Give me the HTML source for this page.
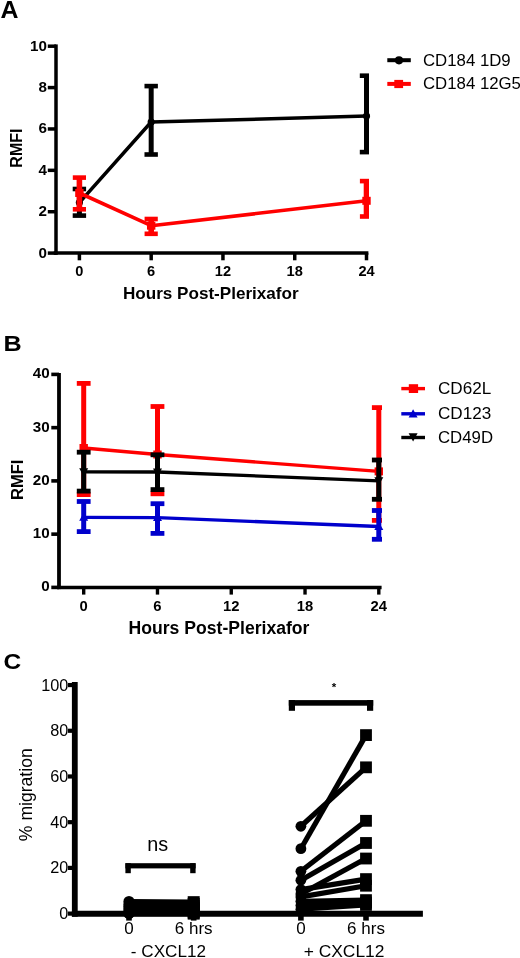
<!DOCTYPE html>
<html><head><meta charset="utf-8"><style>
html,body{margin:0;padding:0;background:#fff;}
svg{display:block;will-change:transform;}
text{font-family:"Liberation Sans",sans-serif;fill:#000;}
</style></head><body>
<svg width="520" height="958" viewBox="0 0 520 958">
<rect width="520" height="958" fill="#fff"/>
<text x="0.00" y="18.20" font-size="23.5" text-anchor="start" font-weight="bold" transform="translate(0.6 0) scale(1.06 1)">A</text>
<line x1="56.00" y1="44.40" x2="56.00" y2="254.90" stroke="#000" stroke-width="3.5" stroke-linecap="butt"/>
<line x1="53.70" y1="253.10" x2="368.40" y2="253.10" stroke="#000" stroke-width="3.5" stroke-linecap="butt"/>
<line x1="47.80" y1="253.10" x2="56.00" y2="253.10" stroke="#000" stroke-width="3.5" stroke-linecap="butt"/>
<text x="46.90" y="257.60" font-size="15.2" text-anchor="end" font-weight="bold" >0</text>
<line x1="47.80" y1="211.72" x2="56.00" y2="211.72" stroke="#000" stroke-width="3.5" stroke-linecap="butt"/>
<text x="46.90" y="216.22" font-size="15.2" text-anchor="end" font-weight="bold" >2</text>
<line x1="47.80" y1="170.34" x2="56.00" y2="170.34" stroke="#000" stroke-width="3.5" stroke-linecap="butt"/>
<text x="46.90" y="174.84" font-size="15.2" text-anchor="end" font-weight="bold" >4</text>
<line x1="47.80" y1="128.96" x2="56.00" y2="128.96" stroke="#000" stroke-width="3.5" stroke-linecap="butt"/>
<text x="46.90" y="133.46" font-size="15.2" text-anchor="end" font-weight="bold" >6</text>
<line x1="47.80" y1="87.58" x2="56.00" y2="87.58" stroke="#000" stroke-width="3.5" stroke-linecap="butt"/>
<text x="46.90" y="92.08" font-size="15.2" text-anchor="end" font-weight="bold" >8</text>
<line x1="47.80" y1="46.20" x2="56.00" y2="46.20" stroke="#000" stroke-width="3.5" stroke-linecap="butt"/>
<text x="46.90" y="50.70" font-size="15.2" text-anchor="end" font-weight="bold" >10</text>
<line x1="79.40" y1="253.10" x2="79.40" y2="260.30" stroke="#000" stroke-width="3.5" stroke-linecap="butt"/>
<text x="79.40" y="276.20" font-size="14.6" text-anchor="middle" font-weight="bold" >0</text>
<line x1="151.18" y1="253.10" x2="151.18" y2="260.30" stroke="#000" stroke-width="3.5" stroke-linecap="butt"/>
<text x="151.18" y="276.20" font-size="14.6" text-anchor="middle" font-weight="bold" >6</text>
<line x1="222.95" y1="253.10" x2="222.95" y2="260.30" stroke="#000" stroke-width="3.5" stroke-linecap="butt"/>
<text x="222.95" y="276.20" font-size="14.6" text-anchor="middle" font-weight="bold" >12</text>
<line x1="294.73" y1="253.10" x2="294.73" y2="260.30" stroke="#000" stroke-width="3.5" stroke-linecap="butt"/>
<text x="294.73" y="276.20" font-size="14.6" text-anchor="middle" font-weight="bold" >18</text>
<line x1="366.50" y1="253.10" x2="366.50" y2="260.30" stroke="#000" stroke-width="3.5" stroke-linecap="butt"/>
<text x="366.50" y="276.20" font-size="14.6" text-anchor="middle" font-weight="bold" >24</text>
<text x="210.80" y="299.20" font-size="17.1" text-anchor="middle" font-weight="bold" >Hours Post-Plerixafor</text>
<text x="22.00" y="148.10" font-size="16" text-anchor="middle" font-weight="bold" transform="rotate(-90 22.0 148.1)">RMFI</text>
<clipPath id="ca"><rect x="56" y="0" width="313" height="260"/></clipPath>
<g clip-path="url(#ca)">
<line x1="79.40" y1="189.00" x2="79.40" y2="215.60" stroke="#000" stroke-width="5.0" stroke-linecap="butt"/>
<rect x="72.70" y="186.70" width="13.40" height="4.60" fill="#000"/>
<rect x="72.70" y="213.30" width="13.40" height="4.60" fill="#000"/>
<line x1="151.18" y1="86.10" x2="151.18" y2="154.50" stroke="#000" stroke-width="5.0" stroke-linecap="butt"/>
<rect x="144.48" y="83.80" width="13.40" height="4.60" fill="#000"/>
<rect x="144.48" y="152.20" width="13.40" height="4.60" fill="#000"/>
<line x1="366.50" y1="75.70" x2="366.50" y2="152.10" stroke="#000" stroke-width="5.0" stroke-linecap="butt"/>
<rect x="359.80" y="73.40" width="13.40" height="4.60" fill="#000"/>
<rect x="359.80" y="149.80" width="13.40" height="4.60" fill="#000"/>
</g>
<polyline points="79.40,202.60 151.18,122.00 366.50,116.10" fill="none" stroke="#000" stroke-width="3.5" stroke-linejoin="round"/>
<circle cx="79.40" cy="202.60" r="3.6" fill="#000"/>
<circle cx="151.18" cy="122.00" r="3.6" fill="#000"/>
<circle cx="366.50" cy="116.10" r="3.6" fill="#000"/>
<g clip-path="url(#ca)">
<line x1="79.40" y1="177.60" x2="79.40" y2="209.30" stroke="#ff0000" stroke-width="5.6" stroke-linecap="butt"/>
<rect x="72.80" y="175.30" width="13.20" height="4.60" fill="#ff0000"/>
<rect x="72.80" y="207.00" width="13.20" height="4.60" fill="#ff0000"/>
<line x1="151.18" y1="219.00" x2="151.18" y2="233.80" stroke="#ff0000" stroke-width="5.6" stroke-linecap="butt"/>
<rect x="144.58" y="216.70" width="13.20" height="4.60" fill="#ff0000"/>
<rect x="144.58" y="231.50" width="13.20" height="4.60" fill="#ff0000"/>
<line x1="366.50" y1="181.10" x2="366.50" y2="216.50" stroke="#ff0000" stroke-width="5.6" stroke-linecap="butt"/>
<rect x="359.90" y="178.80" width="13.20" height="4.60" fill="#ff0000"/>
<rect x="359.90" y="214.20" width="13.20" height="4.60" fill="#ff0000"/>
</g>
<polyline points="79.40,193.00 151.18,225.70 366.50,200.80" fill="none" stroke="#ff0000" stroke-width="3.6" stroke-linejoin="round"/>
<rect x="75.20" y="189.00" width="8.40" height="8.00" fill="#ff0000"/>
<rect x="146.98" y="221.70" width="8.40" height="8.00" fill="#ff0000"/>
<rect x="362.30" y="196.80" width="8.40" height="8.00" fill="#ff0000"/>
<line x1="387.30" y1="60.20" x2="410.80" y2="60.20" stroke="#000" stroke-width="4.0" stroke-linecap="butt"/>
<circle cx="399.0" cy="60.3" r="4.1" fill="#000"/>
<line x1="387.30" y1="83.90" x2="410.80" y2="83.90" stroke="#ff0000" stroke-width="4.0" stroke-linecap="butt"/>
<rect x="394.30" y="79.90" width="8.80" height="8.20" fill="#ff0000"/>
<text x="423.00" y="65.80" font-size="16.8" text-anchor="start" font-weight="normal" >CD184 1D9</text>
<text x="423.00" y="88.80" font-size="16.8" text-anchor="start" font-weight="normal" >CD184 12G5</text>
<text x="0.00" y="351.00" font-size="21.5" text-anchor="start" font-weight="bold" transform="translate(3.4 0) scale(1.17 1)">B</text>
<line x1="59.00" y1="373.00" x2="59.00" y2="589.10" stroke="#000" stroke-width="3.8" stroke-linecap="butt"/>
<line x1="57.10" y1="587.40" x2="381.60" y2="587.40" stroke="#000" stroke-width="3.5" stroke-linecap="butt"/>
<line x1="51.30" y1="587.40" x2="59.00" y2="587.40" stroke="#000" stroke-width="3.6" stroke-linecap="butt"/>
<text x="49.60" y="591.30" font-size="15.2" text-anchor="end" font-weight="bold" >0</text>
<line x1="51.30" y1="534.15" x2="59.00" y2="534.15" stroke="#000" stroke-width="3.6" stroke-linecap="butt"/>
<text x="49.60" y="538.05" font-size="15.2" text-anchor="end" font-weight="bold" >10</text>
<line x1="51.30" y1="480.90" x2="59.00" y2="480.90" stroke="#000" stroke-width="3.6" stroke-linecap="butt"/>
<text x="49.60" y="484.80" font-size="15.2" text-anchor="end" font-weight="bold" >20</text>
<line x1="51.30" y1="427.65" x2="59.00" y2="427.65" stroke="#000" stroke-width="3.6" stroke-linecap="butt"/>
<text x="49.60" y="431.55" font-size="15.2" text-anchor="end" font-weight="bold" >30</text>
<line x1="51.30" y1="374.40" x2="59.00" y2="374.40" stroke="#000" stroke-width="3.6" stroke-linecap="butt"/>
<text x="49.60" y="378.30" font-size="15.2" text-anchor="end" font-weight="bold" >40</text>
<line x1="83.70" y1="587.40" x2="83.70" y2="594.60" stroke="#000" stroke-width="3.4" stroke-linecap="butt"/>
<text x="83.70" y="610.90" font-size="14.8" text-anchor="middle" font-weight="bold" >0</text>
<line x1="157.48" y1="587.40" x2="157.48" y2="594.60" stroke="#000" stroke-width="3.4" stroke-linecap="butt"/>
<text x="157.48" y="610.90" font-size="14.8" text-anchor="middle" font-weight="bold" >6</text>
<line x1="231.25" y1="587.40" x2="231.25" y2="594.60" stroke="#000" stroke-width="3.4" stroke-linecap="butt"/>
<text x="231.25" y="610.90" font-size="14.8" text-anchor="middle" font-weight="bold" >12</text>
<line x1="305.03" y1="587.40" x2="305.03" y2="594.60" stroke="#000" stroke-width="3.4" stroke-linecap="butt"/>
<text x="305.03" y="610.90" font-size="14.8" text-anchor="middle" font-weight="bold" >18</text>
<line x1="378.80" y1="587.40" x2="378.80" y2="594.60" stroke="#000" stroke-width="3.4" stroke-linecap="butt"/>
<text x="378.80" y="610.90" font-size="14.8" text-anchor="middle" font-weight="bold" >24</text>
<text x="219.00" y="634.30" font-size="17.6" text-anchor="middle" font-weight="bold" >Hours Post-Plerixafor</text>
<text x="22.60" y="479.80" font-size="16.6" text-anchor="middle" font-weight="bold" transform="rotate(-90 22.6 479.8)">RMFI</text>
<clipPath id="cb"><rect x="60" y="300" width="322" height="290"/></clipPath>
<g clip-path="url(#cb)">
<line x1="83.70" y1="383.40" x2="83.70" y2="494.60" stroke="#ff0000" stroke-width="5.0" stroke-linecap="butt"/>
<rect x="76.80" y="381.00" width="13.80" height="4.80" fill="#ff0000"/>
<rect x="76.80" y="492.20" width="13.80" height="4.80" fill="#ff0000"/>
<line x1="157.48" y1="406.50" x2="157.48" y2="493.80" stroke="#ff0000" stroke-width="5.0" stroke-linecap="butt"/>
<rect x="150.58" y="404.10" width="13.80" height="4.80" fill="#ff0000"/>
<rect x="150.58" y="491.40" width="13.80" height="4.80" fill="#ff0000"/>
<line x1="378.80" y1="407.60" x2="378.80" y2="520.40" stroke="#ff0000" stroke-width="5.0" stroke-linecap="butt"/>
<rect x="371.90" y="405.20" width="13.80" height="4.80" fill="#ff0000"/>
<rect x="371.90" y="518.00" width="13.80" height="4.80" fill="#ff0000"/>
</g>
<polyline points="83.70,448.00 157.48,454.50 378.80,471.40" fill="none" stroke="#ff0000" stroke-width="3.3" stroke-linejoin="round"/>
<rect x="79.50" y="444.00" width="8.40" height="8.00" fill="#ff0000"/>
<rect x="153.28" y="450.50" width="8.40" height="8.00" fill="#ff0000"/>
<rect x="374.60" y="467.40" width="8.40" height="8.00" fill="#ff0000"/>
<g clip-path="url(#cb)">
<line x1="83.70" y1="501.50" x2="83.70" y2="531.60" stroke="#0000cc" stroke-width="5.0" stroke-linecap="butt"/>
<rect x="76.80" y="499.10" width="13.80" height="4.80" fill="#0000cc"/>
<rect x="76.80" y="529.20" width="13.80" height="4.80" fill="#0000cc"/>
<line x1="157.48" y1="503.70" x2="157.48" y2="533.40" stroke="#0000cc" stroke-width="5.0" stroke-linecap="butt"/>
<rect x="150.58" y="501.30" width="13.80" height="4.80" fill="#0000cc"/>
<rect x="150.58" y="531.00" width="13.80" height="4.80" fill="#0000cc"/>
<line x1="378.80" y1="510.50" x2="378.80" y2="539.30" stroke="#0000cc" stroke-width="5.0" stroke-linecap="butt"/>
<rect x="371.90" y="508.10" width="13.80" height="4.80" fill="#0000cc"/>
<rect x="371.90" y="536.90" width="13.80" height="4.80" fill="#0000cc"/>
</g>
<polyline points="83.70,517.30 157.48,517.60 378.80,526.50" fill="none" stroke="#0000cc" stroke-width="3.3" stroke-linejoin="round"/>
<polygon points="79.20,520.80 88.20,520.80 83.70,512.80" fill="#0000cc"/>
<polygon points="152.98,521.10 161.98,521.10 157.48,513.10" fill="#0000cc"/>
<polygon points="374.30,530.00 383.30,530.00 378.80,522.00" fill="#0000cc"/>
<g clip-path="url(#cb)">
<line x1="83.70" y1="452.20" x2="83.70" y2="491.10" stroke="#000" stroke-width="5.0" stroke-linecap="butt"/>
<rect x="76.80" y="449.80" width="13.80" height="4.80" fill="#000"/>
<rect x="76.80" y="488.70" width="13.80" height="4.80" fill="#000"/>
<line x1="157.48" y1="454.80" x2="157.48" y2="489.60" stroke="#000" stroke-width="5.0" stroke-linecap="butt"/>
<rect x="150.58" y="452.40" width="13.80" height="4.80" fill="#000"/>
<rect x="150.58" y="487.20" width="13.80" height="4.80" fill="#000"/>
<line x1="378.80" y1="460.00" x2="378.80" y2="499.30" stroke="#000" stroke-width="5.0" stroke-linecap="butt"/>
<rect x="371.90" y="457.60" width="13.80" height="4.80" fill="#000"/>
<rect x="371.90" y="496.90" width="13.80" height="4.80" fill="#000"/>
</g>
<polyline points="83.70,471.80 157.48,472.00 378.80,480.80" fill="none" stroke="#000" stroke-width="3.3" stroke-linejoin="round"/>
<polygon points="79.20,468.30 88.20,468.30 83.70,476.30" fill="#000"/>
<polygon points="152.98,468.50 161.98,468.50 157.48,476.50" fill="#000"/>
<polygon points="374.30,477.30 383.30,477.30 378.80,485.30" fill="#000"/>
<line x1="401.30" y1="388.60" x2="425.00" y2="388.60" stroke="#ff0000" stroke-width="3.4" stroke-linecap="butt"/>
<rect x="408.80" y="384.20" width="9.30" height="8.80" fill="#ff0000"/>
<line x1="401.30" y1="413.80" x2="425.00" y2="413.80" stroke="#0000cc" stroke-width="3.4" stroke-linecap="butt"/>
<polygon points="408.6,417.6 417.6,417.6 413.1,409.2" fill="#0000cc"/>
<line x1="401.30" y1="437.50" x2="425.00" y2="437.50" stroke="#000" stroke-width="3.4" stroke-linecap="butt"/>
<polygon points="408.6,433.2 417.6,433.2 413.1,441.6" fill="#000"/>
<text x="438.00" y="394.30" font-size="17.1" text-anchor="start" font-weight="normal" >CD62L</text>
<text x="438.00" y="419.30" font-size="17.1" text-anchor="start" font-weight="normal" >CD123</text>
<text x="438.00" y="442.60" font-size="16.8" text-anchor="start" font-weight="normal" >CD49D</text>
<text x="0.00" y="668.60" font-size="22.3" text-anchor="start" font-weight="bold" transform="translate(3.5 0) scale(1.1 1)">C</text>
<line x1="74.80" y1="682.00" x2="74.80" y2="916.80" stroke="#000" stroke-width="5.8" stroke-linecap="butt"/>
<line x1="71.90" y1="913.80" x2="422.90" y2="913.80" stroke="#000" stroke-width="6.0" stroke-linecap="butt"/>
<line x1="68.00" y1="913.60" x2="74.80" y2="913.60" stroke="#000" stroke-width="4.2" stroke-linecap="butt"/>
<text x="68.40" y="919.20" font-size="16.3" text-anchor="end" font-weight="normal" >0</text>
<line x1="68.00" y1="867.89" x2="74.80" y2="867.89" stroke="#000" stroke-width="4.2" stroke-linecap="butt"/>
<text x="68.40" y="873.49" font-size="16.3" text-anchor="end" font-weight="normal" >20</text>
<line x1="68.00" y1="822.18" x2="74.80" y2="822.18" stroke="#000" stroke-width="4.2" stroke-linecap="butt"/>
<text x="68.40" y="827.78" font-size="16.3" text-anchor="end" font-weight="normal" >40</text>
<line x1="68.00" y1="776.47" x2="74.80" y2="776.47" stroke="#000" stroke-width="4.2" stroke-linecap="butt"/>
<text x="68.40" y="782.07" font-size="16.3" text-anchor="end" font-weight="normal" >60</text>
<line x1="68.00" y1="730.76" x2="74.80" y2="730.76" stroke="#000" stroke-width="4.2" stroke-linecap="butt"/>
<text x="68.40" y="736.36" font-size="16.3" text-anchor="end" font-weight="normal" >80</text>
<line x1="68.00" y1="685.05" x2="74.80" y2="685.05" stroke="#000" stroke-width="4.2" stroke-linecap="butt"/>
<text x="68.40" y="690.65" font-size="16.3" text-anchor="end" font-weight="normal" >100</text>
<line x1="129.00" y1="913.80" x2="129.00" y2="920.60" stroke="#000" stroke-width="5.6" stroke-linecap="butt"/>
<line x1="193.70" y1="913.80" x2="193.70" y2="920.60" stroke="#000" stroke-width="5.6" stroke-linecap="butt"/>
<line x1="300.90" y1="913.80" x2="300.90" y2="920.60" stroke="#000" stroke-width="5.6" stroke-linecap="butt"/>
<line x1="366.00" y1="913.80" x2="366.00" y2="920.60" stroke="#000" stroke-width="5.6" stroke-linecap="butt"/>
<text x="129.00" y="934.40" font-size="17" text-anchor="middle" font-weight="normal" >0</text>
<text x="193.70" y="934.40" font-size="17" text-anchor="middle" font-weight="normal" >6 hrs</text>
<text x="300.90" y="934.40" font-size="17" text-anchor="middle" font-weight="normal" >0</text>
<text x="366.00" y="934.40" font-size="17" text-anchor="middle" font-weight="normal" >6 hrs</text>
<text x="168.40" y="956.60" font-size="17.1" text-anchor="middle" font-weight="normal" >- CXCL12</text>
<text x="344.10" y="956.60" font-size="17.4" text-anchor="middle" font-weight="normal" >+ CXCL12</text>
<text x="32.20" y="794.70" font-size="17.6" text-anchor="middle" font-weight="normal" transform="rotate(-90 32.2 794.7)">% migration</text>
<rect x="125.40" y="863.20" width="70.20" height="5.20" fill="#000"/>
<rect x="125.40" y="863.20" width="5.40" height="10.00" fill="#000"/>
<rect x="190.20" y="863.20" width="5.40" height="10.00" fill="#000"/>
<rect x="288.80" y="700.10" width="84.40" height="5.60" fill="#000"/>
<rect x="288.80" y="700.10" width="6.20" height="10.70" fill="#000"/>
<rect x="367.00" y="700.10" width="6.20" height="10.70" fill="#000"/>
<text x="157.70" y="850.60" font-size="19.8" text-anchor="middle" font-weight="normal" >ns</text>
<text x="334.10" y="691.40" font-size="11.5" text-anchor="middle" font-weight="bold" >*</text>
<line x1="129.00" y1="901.49" x2="193.70" y2="902.17" stroke="#000" stroke-width="5.2" stroke-linecap="butt"/>
<line x1="129.00" y1="904.46" x2="193.70" y2="904.00" stroke="#000" stroke-width="5.2" stroke-linecap="butt"/>
<line x1="129.00" y1="906.74" x2="193.70" y2="906.06" stroke="#000" stroke-width="5.2" stroke-linecap="butt"/>
<line x1="129.00" y1="909.03" x2="193.70" y2="907.89" stroke="#000" stroke-width="5.2" stroke-linecap="butt"/>
<line x1="129.00" y1="911.31" x2="193.70" y2="910.17" stroke="#000" stroke-width="5.2" stroke-linecap="butt"/>
<line x1="129.00" y1="912.91" x2="193.70" y2="912.46" stroke="#000" stroke-width="5.2" stroke-linecap="butt"/>
<line x1="129.00" y1="913.60" x2="193.70" y2="913.60" stroke="#000" stroke-width="5.2" stroke-linecap="butt"/>
<circle cx="129.00" cy="901.49" r="5.6" fill="#000"/>
<rect x="187.70" y="896.17" width="12.00" height="12.00" fill="#000"/>
<circle cx="129.00" cy="904.46" r="5.6" fill="#000"/>
<rect x="187.70" y="898.00" width="12.00" height="12.00" fill="#000"/>
<circle cx="129.00" cy="906.74" r="5.6" fill="#000"/>
<rect x="187.70" y="900.06" width="12.00" height="12.00" fill="#000"/>
<circle cx="129.00" cy="909.03" r="5.6" fill="#000"/>
<rect x="187.70" y="901.89" width="12.00" height="12.00" fill="#000"/>
<circle cx="129.00" cy="911.31" r="5.6" fill="#000"/>
<rect x="187.70" y="904.17" width="12.00" height="12.00" fill="#000"/>
<circle cx="129.00" cy="912.91" r="5.6" fill="#000"/>
<rect x="187.70" y="906.46" width="12.00" height="12.00" fill="#000"/>
<circle cx="129.00" cy="913.60" r="5.6" fill="#000"/>
<rect x="187.70" y="907.60" width="12.00" height="12.00" fill="#000"/>
<line x1="300.90" y1="848.69" x2="366.00" y2="735.10" stroke="#000" stroke-width="5.2" stroke-linecap="butt"/>
<line x1="300.90" y1="826.29" x2="366.00" y2="767.33" stroke="#000" stroke-width="5.2" stroke-linecap="butt"/>
<line x1="300.90" y1="871.32" x2="366.00" y2="820.81" stroke="#000" stroke-width="5.2" stroke-linecap="butt"/>
<line x1="300.90" y1="880.23" x2="366.00" y2="842.98" stroke="#000" stroke-width="5.2" stroke-linecap="butt"/>
<line x1="300.90" y1="893.94" x2="366.00" y2="858.52" stroke="#000" stroke-width="5.2" stroke-linecap="butt"/>
<line x1="300.90" y1="889.60" x2="366.00" y2="879.09" stroke="#000" stroke-width="5.2" stroke-linecap="butt"/>
<line x1="300.90" y1="896.92" x2="366.00" y2="885.72" stroke="#000" stroke-width="5.2" stroke-linecap="butt"/>
<line x1="300.90" y1="901.26" x2="366.00" y2="900.12" stroke="#000" stroke-width="5.2" stroke-linecap="butt"/>
<line x1="300.90" y1="905.60" x2="366.00" y2="902.63" stroke="#000" stroke-width="5.2" stroke-linecap="butt"/>
<line x1="300.90" y1="909.26" x2="366.00" y2="904.92" stroke="#000" stroke-width="5.2" stroke-linecap="butt"/>
<circle cx="300.90" cy="848.69" r="5.4" fill="#000"/>
<rect x="360.10" y="729.20" width="11.80" height="11.80" fill="#000"/>
<circle cx="300.90" cy="826.29" r="5.4" fill="#000"/>
<rect x="360.10" y="761.43" width="11.80" height="11.80" fill="#000"/>
<circle cx="300.90" cy="871.32" r="5.4" fill="#000"/>
<rect x="360.10" y="814.91" width="11.80" height="11.80" fill="#000"/>
<circle cx="300.90" cy="880.23" r="5.4" fill="#000"/>
<rect x="360.10" y="837.08" width="11.80" height="11.80" fill="#000"/>
<circle cx="300.90" cy="893.94" r="5.4" fill="#000"/>
<rect x="360.10" y="852.62" width="11.80" height="11.80" fill="#000"/>
<circle cx="300.90" cy="889.60" r="5.4" fill="#000"/>
<rect x="360.10" y="873.19" width="11.80" height="11.80" fill="#000"/>
<circle cx="300.90" cy="896.92" r="5.4" fill="#000"/>
<rect x="360.10" y="879.82" width="11.80" height="11.80" fill="#000"/>
<circle cx="300.90" cy="901.26" r="5.4" fill="#000"/>
<rect x="360.10" y="894.22" width="11.80" height="11.80" fill="#000"/>
<circle cx="300.90" cy="905.60" r="5.4" fill="#000"/>
<rect x="360.10" y="896.73" width="11.80" height="11.80" fill="#000"/>
<circle cx="300.90" cy="909.26" r="5.4" fill="#000"/>
<rect x="360.10" y="899.02" width="11.80" height="11.80" fill="#000"/>
</svg>
</body></html>
